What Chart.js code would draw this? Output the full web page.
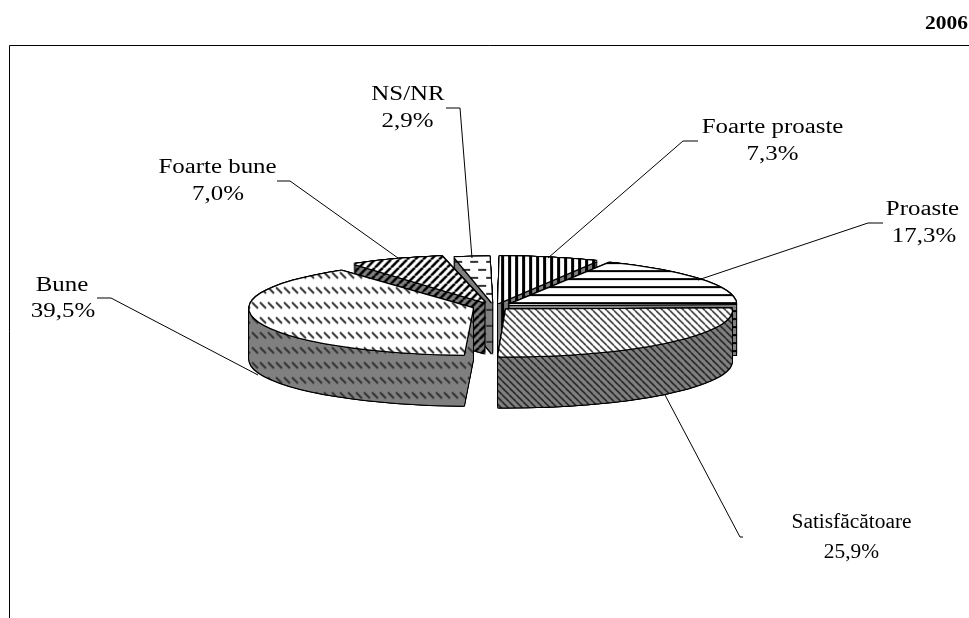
<!DOCTYPE html>
<html><head><meta charset="utf-8">
<style>html,body{margin:0;padding:0;background:#fff}canvas{display:block}</style>
<script src="https://cdn.jsdelivr.net/npm/chart.js@4"></script>
</head><body><canvas id="c" width="969" height="618"></canvas>
<script>
const categories = ['Foarte proaste','Proaste','Satisfăcătoare','Bune','Foarte bune','NS/NR'];
const values = [7.3,17.3,25.9,39.5,7.0,2.9];
const yearLabel = '2006';

const SQUASH = 0.208, DEPTH = 51, CX = 494, CY = 307;
const sliceRadii = [216,226,226,215,214,206];
const sliceOffsets = [72,68,68,88,92,80];
const paintOrder = [5,4,0,1,3,2];
const labelSpots = [
 {x:772.5,y:128,vx:772.5,vy:155,size:20,sx:1.245,line:[[698,141],[683,141],[548,258]]},
 {x:922.5,y:210,vx:924,vy:237,size:20,sx:1.245,line:[[883,223],[868,223],[698,280]]},
 {x:851.5,y:523,vx:851.5,vy:553,size:20,sx:1.07,line:[[743,537],[740,537],[665,395]]},
 {x:62,y:286,vx:63,vy:312,size:20,sx:1.245,line:[[97,298],[111,298],[258,375]]},
 {x:217.5,y:168,vx:218,vy:195,size:20,sx:1.245,line:[[277,181],[290,181],[398,258]]},
 {x:408,y:95,vx:407.5,vy:122,size:20,sx:1.245,line:[[446,108],[460,108],[472,258]]}
];

function tile(w,h,bg,fn){
  const c=document.createElement('canvas');c.width=w;c.height=h;
  const g=c.getContext('2d');g.fillStyle=bg;g.fillRect(0,0,w,h);
  g.strokeStyle='#000';g.fillStyle='#000';fn(g,w,h);
  return document.getElementById('c').getContext('2d').createPattern(c,'repeat');
}
const drawers=[
 (g)=>{g.fillRect(0,0,3,8);},
 (g)=>{g.fillRect(0,0,8,2);},
 (g,w,h)=>{g.strokeStyle='#111';g.lineWidth=1.3;for(let i=-1;i<=1;i++){g.beginPath();g.moveTo(i*w,0);g.lineTo(i*w+w,h);g.stroke();}},
 (g)=>{g.strokeStyle='#333';g.lineWidth=2;g.beginPath();g.moveTo(1,1);g.lineTo(7,7);g.stroke();},
 (g,w,h)=>{g.lineWidth=2.6;for(let i=-1;i<=1;i++){g.beginPath();g.moveTo(i*w,h);g.lineTo(i*w+w,0);g.stroke();}},
 (g)=>{g.fillStyle='#333';g.fillRect(0,1,8,2);g.fillRect(8,9,8,2);}
];
const tileSize=[[7,8],[8,8],[7,7],[8,15],[8,8],[16,16]];
const topPatterns=drawers.map((d,i)=>tile(tileSize[i][0],tileSize[i][1],'#fff',d));
const wallPatterns=drawers.map((d,i)=>tile(tileSize[i][0],tileSize[i][1],'#808080',d));

function place(ctx,arc,dx,dy){
  ctx.setTransform(1,0,0,1,0,0);
  ctx.translate(CX+dx,CY+dy);
  ctx.scale(1,SQUASH);
  ctx.translate(-arc.x,-arc.y);
}
function paint(ctx,arc,fill,dx,dy){
  place(ctx,arc,dx,dy);
  if(typeof fill!=='string')fill.setTransform(ctx.getTransform().inverse());
  const keep=arc.options;
  arc.options=Object.assign({},keep,{backgroundColor:fill,borderWidth:0});
  arc.draw(ctx);
  arc.options=keep;
}
function stretched(ctx,text,x,y,sx){
  ctx.save();ctx.translate(x,y);ctx.scale(sx,1);ctx.fillText(text,0,0);ctx.restore();
}
const pie3d={
  id:'pie3d',
  beforeDatasetDraw(chart,args){
    const ctx=chart.ctx,arcs=args.meta.data;
    ctx.save();
    paintOrder.forEach(i=>{
      const a=arcs[i];
      a.outerRadius=sliceRadii[i];
      for(let k=0;k<=DEPTH;k+=1)for(const dx of [-1,0,1]){
        paint(ctx,a,'#000',dx,k-1);paint(ctx,a,'#000',dx,k+1);
      }
      for(let k=DEPTH;k>=1;k--)paint(ctx,a,wallPatterns[i],0,k);
      for(const dx of [-1,0,1])for(const dy of [-1,0,1])paint(ctx,a,'#000',dx,dy);
      paint(ctx,a,topPatterns[i],0,0);
    });
    ctx.restore();
    return false;
  },
  afterDraw(chart){
    const ctx=chart.ctx;
    ctx.save();ctx.setTransform(1,0,0,1,0,0);
    ctx.strokeStyle='#000';ctx.lineWidth=1;
    ctx.beginPath();ctx.moveTo(9.5,618);ctx.lineTo(9.5,45.5);ctx.lineTo(969,45.5);ctx.stroke();
    ctx.fillStyle='#000';ctx.textBaseline='middle';
    ctx.font='bold 19px "Liberation Serif"';ctx.textAlign='center';
    stretched(ctx,yearLabel,946.5,24,1.13);
    categories.forEach((n,i)=>{
      const s=labelSpots[i];
      ctx.font=s.size+'px "Liberation Serif"';
      stretched(ctx,n,s.x,s.y,s.sx);
      stretched(ctx,values[i].toFixed(1).replace('.',',')+'%',s.vx,s.vy,s.sx);
      ctx.beginPath();
      s.line.forEach((p,j)=>j?ctx.lineTo(p[0],p[1]):ctx.moveTo(p[0],p[1]));
      ctx.stroke();
    });
    ctx.restore();
  }
};
new Chart(document.getElementById('c'),{
  type:'pie',
  data:{labels:categories,datasets:[{data:values,backgroundColor:topPatterns,borderWidth:0,offset:sliceOffsets}]},
  options:{responsive:false,animation:false,layout:{padding:0},
    plugins:{legend:{display:false},tooltip:{enabled:false}},events:[]},
  plugins:[pie3d]
});
</script></body></html>
